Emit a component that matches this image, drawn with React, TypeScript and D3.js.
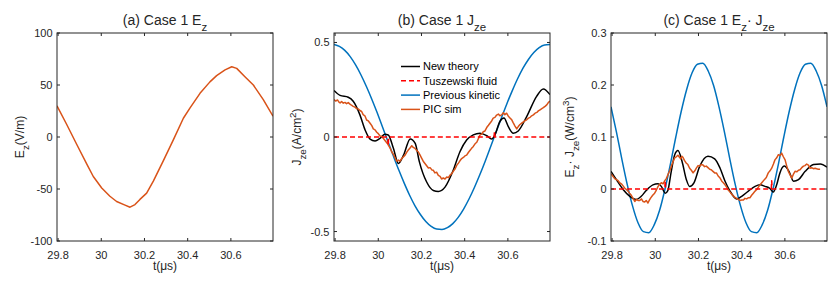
import React from "react";
import * as d3 from "d3";

const W = 837;
const H = 284;
const TOP = 33;
const BOTTOM = 241;
const PW = 216;
const FONT = "'Liberation Sans', Arial, Helvetica, sans-serif";
const AXIS = "#262626";

const ORANGE = "#D95319";
const BLUE = "#0072BD";
const RED = "#FF0000";
const BLACK = "#000000";

const tDomain = [29.795, 30.795];
const tTicks = [29.8, 30, 30.2, 30.4, 30.6];

// (a) E_z
const ezTime = [29.795, 29.84, 29.886, 29.933, 29.963, 30.002, 30.04, 30.071, 30.11, 30.133, 30.156, 30.179, 30.21, 30.241, 30.287, 30.333, 30.38, 30.411, 30.457, 30.503, 30.534, 30.573, 30.604, 30.627, 30.665, 30.704, 30.75, 30.795];
const ezValue = [30, 12, -7, -26, -38, -49, -57, -62, -65.5, -67.5, -65, -60, -54, -42.5, -23, -3, 18, 28, 42, 53, 59, 64.5, 67.5, 66, 58, 50, 36, 20];

// (b) J_ze
const jBlueTime = d3.range(0, 41).map((k) => 29.795 + k * 0.025);
const jBlue = [0.489, 0.479, 0.458, 0.425, 0.381, 0.328, 0.267, 0.2, 0.128, 0.052, -0.025, -0.101, -0.175, -0.244, -0.308, -0.364, -0.41, -0.447, -0.473, -0.487, -0.489, -0.479, -0.458, -0.425, -0.381, -0.328, -0.267, -0.2, -0.128, -0.052, 0.025, 0.101, 0.175, 0.244, 0.308, 0.364, 0.41, 0.447, 0.473, 0.487, 0.489];

const jBlackTime = [29.795, 29.823, 29.861, 29.884, 29.915, 29.939, 29.962, 29.985, 30.008, 30.031, 30.046, 30.07, 30.093, 30.117, 30.148, 30.171, 30.19, 30.224, 30.255, 30.278, 30.309, 30.347, 30.378, 30.409, 30.44, 30.471, 30.502, 30.525, 30.54, 30.563, 30.582, 30.602, 30.625, 30.648, 30.687, 30.733, 30.764, 30.795];
const jBlack = [0.246, 0.22, 0.21, 0.189, 0.117, 0.037, -0.011, -0.021, -0.007, 0.014, 0.011, -0.06, -0.14, -0.096, -0.01, -0.034, -0.13, -0.238, -0.283, -0.288, -0.265, -0.176, -0.078, -0.016, 0.011, 0.02, 0.007, -0.011, 0.011, 0.082, 0.1, 0.055, 0.02, 0.032, 0.108, 0.215, 0.254, 0.224];

const jPicTime = [29.795, 29.803, 29.811, 29.818, 29.823, 29.83, 29.838, 29.846, 29.853, 29.861, 29.869, 29.876, 29.884, 29.892, 29.9, 29.908, 29.915, 29.923, 29.93, 29.938, 29.946, 29.954, 29.962, 29.97, 29.977, 29.985, 29.993, 30.0, 30.008, 30.015, 30.023, 30.032, 30.042, 30.05, 30.056, 30.062, 30.07, 30.078, 30.085, 30.093, 30.1, 30.108, 30.116, 30.124, 30.132, 30.139, 30.147, 30.155, 30.162, 30.17, 30.178, 30.185, 30.193, 30.2, 30.208, 30.216, 30.224, 30.232, 30.24, 30.248, 30.255, 30.262, 30.27, 30.278, 30.286, 30.293, 30.301, 30.309, 30.317, 30.325, 30.333, 30.34, 30.348, 30.356, 30.363, 30.371, 30.378, 30.386, 30.394, 30.401, 30.409, 30.417, 30.425, 30.432, 30.44, 30.448, 30.456, 30.463, 30.471, 30.479, 30.486, 30.494, 30.502, 30.51, 30.517, 30.525, 30.532, 30.54, 30.548, 30.556, 30.563, 30.571, 30.579, 30.586, 30.594, 30.602, 30.61, 30.618, 30.625, 30.633, 30.641, 30.648, 30.656, 30.664, 30.672, 30.68, 30.687, 30.695, 30.703, 30.71, 30.718, 30.726, 30.734, 30.741, 30.749, 30.757, 30.764, 30.772, 30.78, 30.787, 30.795];
const jPic = [0.198, 0.19, 0.196, 0.184, 0.18, 0.188, 0.179, 0.183, 0.176, 0.182, 0.174, 0.168, 0.162, 0.158, 0.15, 0.148, 0.14, 0.135, 0.118, 0.112, 0.09, 0.085, 0.073, 0.06, 0.043, 0.038, 0.025, 0.018, 0.005, 0.004, -0.007, -0.02, -0.034, -0.05, -0.062, -0.078, -0.092, -0.11, -0.128, -0.122, -0.128, -0.115, -0.105, -0.096, -0.08, -0.069, -0.058, -0.046, -0.055, -0.06, -0.072, -0.078, -0.095, -0.11, -0.128, -0.14, -0.152, -0.164, -0.162, -0.174, -0.176, -0.19, -0.186, -0.203, -0.208, -0.222, -0.217, -0.222, -0.212, -0.215, -0.2, -0.194, -0.18, -0.168, -0.15, -0.138, -0.126, -0.114, -0.108, -0.1, -0.096, -0.082, -0.07, -0.06, -0.05, -0.036, -0.028, -0.01, 0.011, 0.015, 0.028, 0.032, 0.05, 0.062, 0.073, 0.085, 0.1, 0.104, 0.116, 0.121, 0.112, 0.117, 0.128, 0.118, 0.126, 0.11, 0.1, 0.091, 0.075, 0.058, 0.043, 0.055, 0.066, 0.073, 0.08, 0.086, 0.091, 0.1, 0.104, 0.112, 0.117, 0.126, 0.13, 0.138, 0.144, 0.15, 0.155, 0.162, 0.17, 0.182, 0.19];

const jFluidTime = [29.795, 30.044, 30.046, 30.048, 30.536, 30.538, 30.54, 30.795];
const jFluid = [0, 0, -0.045, 0, 0, 0.03, 0, 0];

// (c) E_z . J_ze
const pBlueTime = d3.range(0, 41).map((k) => 29.795 + k * 0.025);
const pBlue = [0.158, 0.11, 0.058, 0.009, -0.033, -0.065, -0.082, -0.084, -0.069, -0.041, 0.0, 0.048, 0.1, 0.149, 0.191, 0.223, 0.24, 0.242, 0.227, 0.199, 0.158, 0.11, 0.058, 0.009, -0.033, -0.065, -0.082, -0.084, -0.069, -0.041, 0.0, 0.048, 0.1, 0.149, 0.191, 0.223, 0.24, 0.242, 0.227, 0.199, 0.158];

const pBlackTime = [29.795, 29.82, 29.851, 29.882, 29.912, 29.935, 29.958, 29.989, 30.013, 30.028, 30.046, 30.058, 30.074, 30.09, 30.105, 30.124, 30.144, 30.159, 30.179, 30.206, 30.244, 30.275, 30.3, 30.323, 30.346, 30.377, 30.4, 30.431, 30.462, 30.485, 30.508, 30.531, 30.546, 30.562, 30.577, 30.597, 30.619, 30.64, 30.663, 30.694, 30.733, 30.764, 30.795];
const pBlack = [0.034, 0.018, -0.001, -0.014, -0.02, -0.014, -0.003, 0.008, 0.01, 0.005, -0.008, -0.003, 0.034, 0.066, 0.074, 0.053, 0.018, 0.005, 0.012, 0.044, 0.063, 0.058, 0.04, 0.015, -0.004, -0.019, -0.014, -0.004, 0.005, 0.008, 0.005, 0.001, -0.006, 0.008, 0.031, 0.044, 0.034, 0.015, 0.018, 0.034, 0.047, 0.048, 0.042];

const pPicTime = [29.795, 29.803, 29.812, 29.82, 29.828, 29.835, 29.843, 29.851, 29.858, 29.866, 29.874, 29.881, 29.889, 29.897, 29.905, 29.913, 29.92, 29.928, 29.936, 29.943, 29.951, 29.958, 29.966, 29.972, 29.979, 29.988, 29.997, 30.005, 30.013, 30.02, 30.028, 30.036, 30.044, 30.051, 30.059, 30.068, 30.077, 30.084, 30.09, 30.097, 30.105, 30.112, 30.118, 30.123, 30.128, 30.135, 30.143, 30.151, 30.159, 30.167, 30.175, 30.183, 30.19, 30.198, 30.206, 30.213, 30.221, 30.228, 30.236, 30.244, 30.252, 30.259, 30.267, 30.275, 30.283, 30.291, 30.3, 30.308, 30.315, 30.323, 30.331, 30.338, 30.346, 30.354, 30.361, 30.369, 30.377, 30.385, 30.392, 30.4, 30.408, 30.415, 30.423, 30.43, 30.438, 30.446, 30.454, 30.462, 30.47, 30.478, 30.485, 30.495, 30.505, 30.514, 30.523, 30.531, 30.539, 30.547, 30.554, 30.562, 30.57, 30.578, 30.585, 30.593, 30.601, 30.608, 30.616, 30.624, 30.632, 30.639, 30.647, 30.655, 30.663, 30.67, 30.678, 30.686, 30.693, 30.701, 30.709, 30.716, 30.724, 30.732, 30.74, 30.747, 30.755, 30.763, 30.77, 30.778, 30.786, 30.795];
const pPic = [0.029, 0.025, 0.02, 0.018, 0.016, 0.012, 0.01, 0.006, 0.002, -0.001, -0.004, -0.008, -0.012, -0.018, -0.024, -0.02, -0.022, -0.022, -0.019, -0.024, -0.025, -0.022, -0.027, -0.022, -0.017, -0.012, -0.008, -0.002, 0.005, 0.009, 0.012, 0.01, 0.016, 0.02, 0.028, 0.036, 0.047, 0.054, 0.06, 0.062, 0.065, 0.061, 0.058, 0.063, 0.061, 0.055, 0.05, 0.047, 0.04, 0.036, 0.031, 0.035, 0.04, 0.045, 0.044, 0.047, 0.046, 0.043, 0.044, 0.041, 0.038, 0.037, 0.034, 0.031, 0.031, 0.025, 0.021, 0.015, 0.012, 0.008, 0.003, -0.002, -0.006, -0.01, -0.013, -0.016, -0.018, -0.02, -0.022, -0.021, -0.021, -0.018, -0.019, -0.017, -0.017, -0.012, -0.008, -0.004, -0.001, 0.004, 0.008, 0.013, 0.018, 0.022, 0.031, 0.035, 0.04, 0.048, 0.056, 0.06, 0.066, 0.064, 0.069, 0.062, 0.056, 0.045, 0.034, 0.027, 0.021, 0.028, 0.034, 0.033, 0.036, 0.037, 0.041, 0.044, 0.045, 0.048, 0.046, 0.04, 0.041, 0.039, 0.04, 0.039, 0.038, 0.038];

const pFluidTime = [29.795, 30.044, 30.046, 30.048, 30.537, 30.539, 30.541, 30.795];
const pFluid = [0, 0, 0.016, 0, 0, 0.016, 0, 0];

const legendLabels = ["New theory", "Tuszewski fluid", "Previous kinetic", "PIC sim"];

type Seg = { text: string; sub?: boolean; sup?: boolean };
type Series = { t: number[]; v: number[]; color: string; dash?: string; smooth?: boolean };

function rich(parts: Seg[], base: number) {
  let cur = 0;
  return parts.map((p, i) => {
    const want = p.sub ? base * 0.4 : p.sup ? -base * 0.42 : 0;
    const dy = want - cur;
    cur = want;
    return (
      <tspan key={i} dy={dy} fontSize={p.sub || p.sup ? base * 0.82 : base}>
        {p.text}
      </tspan>
    );
  });
}

function Panel(props: {
  id: string;
  left: number;
  yDomain: number[];
  yTicks: number[];
  title: Seg[];
  ylabel: Seg[];
  ylabelX: number;
  series: Series[];
  legend?: boolean;
}) {
  const { id, left, yDomain, yTicks, title, ylabel, ylabelX, series, legend } = props;
  const x = d3.scaleLinear().domain(tDomain).range([left, left + PW]);
  const y = d3.scaleLinear().domain(yDomain).range([BOTTOM, TOP]);
  const cx = left + PW / 2;
  const cy = (TOP + BOTTOM) / 2;

  return (
    <g>
      <defs>
        <clipPath id={id}>
          <rect x={left} y={TOP} width={PW} height={BOTTOM - TOP} />
        </clipPath>
      </defs>
      <g clipPath={`url(#${id})`}>
        {series.map((s, i) => {
          const line = d3
            .line<number>()
            .x((_, j) => x(s.t[j]))
            .y((d) => y(d))
            .curve(s.smooth ? d3.curveMonotoneX : d3.curveLinear);
          return (
            <path
              key={i}
              d={line(s.v) || ""}
              fill="none"
              stroke={s.color}
              strokeWidth={1.5}
              strokeDasharray={s.dash}
              strokeLinejoin="round"
            />
          );
        })}
      </g>
      <rect x={left} y={TOP} width={PW} height={BOTTOM - TOP} fill="none" stroke={AXIS} strokeWidth={1} />
      {tTicks.map((t) => (
        <g key={t}>
          <line x1={x(t)} x2={x(t)} y1={BOTTOM} y2={BOTTOM - 3} stroke={AXIS} />
          <line x1={x(t)} x2={x(t)} y1={TOP} y2={TOP + 3} stroke={AXIS} />
          <text x={x(t)} y={259} textAnchor="middle" fontSize={11} fill={AXIS} fontFamily={FONT}>
            {String(t)}
          </text>
        </g>
      ))}
      {yTicks.map((v) => (
        <g key={v}>
          <line x1={left} x2={left + 3} y1={y(v)} y2={y(v)} stroke={AXIS} />
          <line x1={left + PW} x2={left + PW - 3} y1={y(v)} y2={y(v)} stroke={AXIS} />
          <text x={left - 4.5} y={y(v)} dy="0.36em" textAnchor="end" fontSize={11} fill={AXIS} fontFamily={FONT}>
            {String(v)}
          </text>
        </g>
      ))}
      <text x={cx} y={25} textAnchor="middle" fill={AXIS} fontFamily={FONT} fontSize={14}>
        {rich(title, 14)}
      </text>
      <text x={cx} y={270} textAnchor="middle" fill={AXIS} fontFamily={FONT} fontSize={12}>
        t(μs)
      </text>
      <text
        transform={`translate(${ylabelX},${cy}) rotate(-90)`}
        textAnchor="middle"
        fill={AXIS}
        fontFamily={FONT}
        fontSize={12}
      >
        {rich(ylabel, 12)}
      </text>
      {legend &&
        legendLabels.map((lab, i) => {
          const s = [series[1], series[3], series[0], series[2]][i];
          const ly = 66.5 + i * 14.3;
          return (
            <g key={lab}>
              <line x1={401} x2={420} y1={ly} y2={ly} stroke={s.color} strokeWidth={1.5} strokeDasharray={s.dash} />
              <text x={423} y={ly} dy="0.36em" fontSize={11} fill={BLACK} fontFamily={FONT}>
                {lab}
              </text>
            </g>
          );
        })}
    </g>
  );
}

export default function App() {
  return (
    <div style={{ position: "fixed", left: 0, top: 0, background: "#fff" }}>
      <svg width={W} height={H} style={{ display: "block", background: "#fff" }}>
        <Panel
          id="clipA"
          left={57}
          yDomain={[-100, 100]}
          yTicks={[-100, -50, 0, 50, 100]}
          title={[{ text: "(a) Case 1 E" }, { text: "z", sub: true }]}
          ylabel={[{ text: "E" }, { text: "z", sub: true }, { text: "(V/m)" }]}
          ylabelX={24}
          series={[{ t: ezTime, v: ezValue, color: ORANGE }]}
        />
        <Panel
          id="clipB"
          left={334}
          yDomain={[-0.55, 0.55]}
          yTicks={[-0.5, 0, 0.5]}
          title={[{ text: "(b) Case 1 J" }, { text: "ze", sub: true }]}
          ylabel={[{ text: "J" }, { text: "ze", sub: true }, { text: "(A/cm" }, { text: "2", sup: true }, { text: ")" }]}
          ylabelX={301}
          legend
          series={[
            { t: jBlueTime, v: jBlue, color: BLUE, smooth: true },
            { t: jBlackTime, v: jBlack, color: BLACK, smooth: true },
            { t: jPicTime, v: jPic, color: ORANGE },
            { t: jFluidTime, v: jFluid, color: RED, dash: "5,3" },
          ]}
        />
        <Panel
          id="clipC"
          left={611}
          yDomain={[-0.1, 0.3]}
          yTicks={[-0.1, 0, 0.1, 0.2, 0.3]}
          title={[{ text: "(c) Case 1 E" }, { text: "z", sub: true }, { text: "· J" }, { text: "ze", sub: true }]}
          ylabel={[
            { text: "E" },
            { text: "z", sub: true },
            { text: "· J" },
            { text: "ze", sub: true },
            { text: "(W/cm" },
            { text: "3", sup: true },
            { text: ")" },
          ]}
          ylabelX={574}
          series={[
            { t: pBlueTime, v: pBlue, color: BLUE, smooth: true },
            { t: pBlackTime, v: pBlack, color: BLACK, smooth: true },
            { t: pPicTime, v: pPic, color: ORANGE },
            { t: pFluidTime, v: pFluid, color: RED, dash: "5,3" },
          ]}
        />
      </svg>
    </div>
  );
}
